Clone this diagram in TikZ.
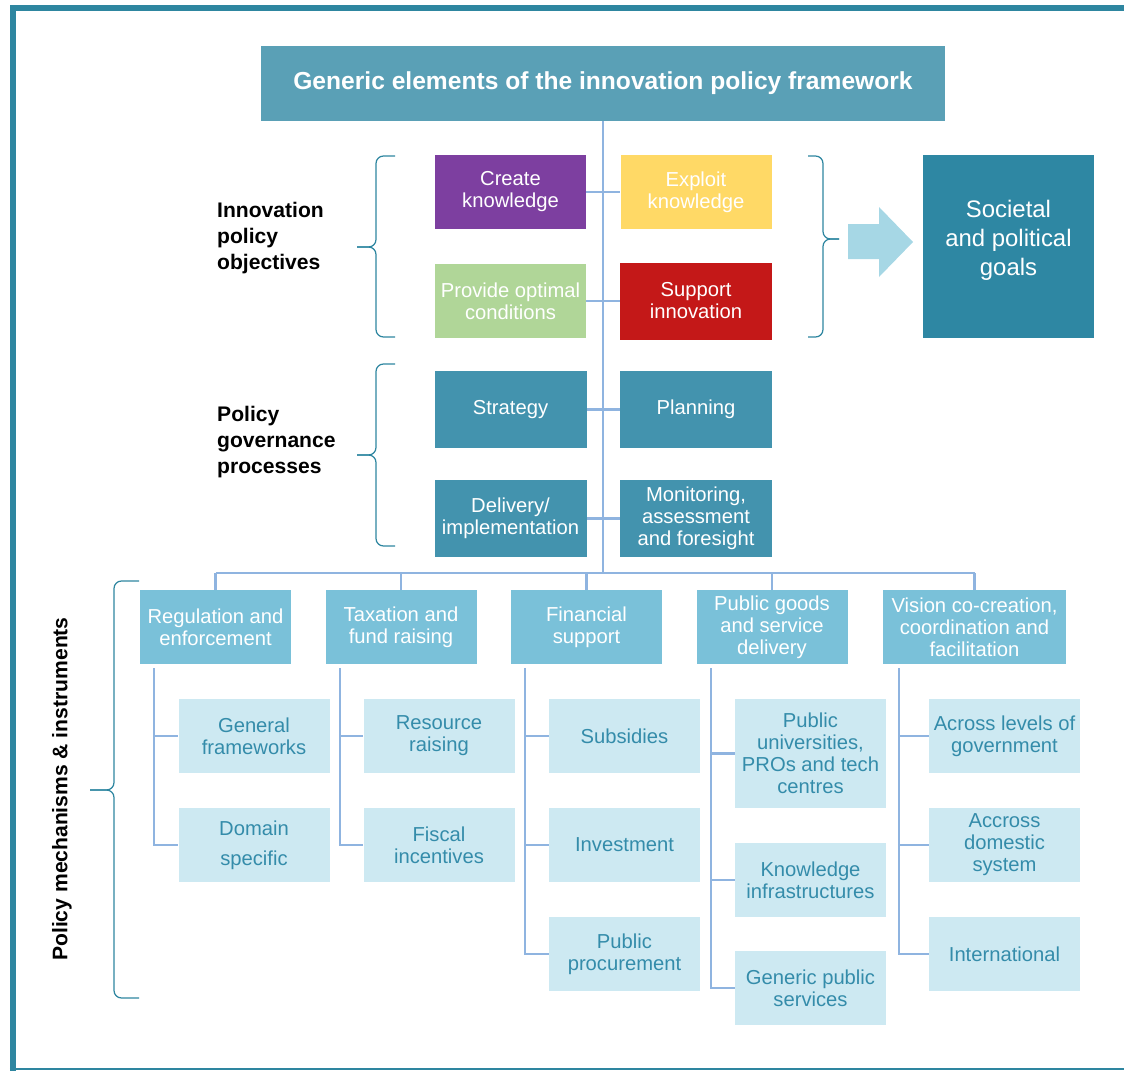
\documentclass[tikz,border=0pt]{standalone}
\usepackage{fontspec}
\setmainfont{Liberation Sans}
\definecolor{bandTeal}{RGB}{46,134,160}
\definecolor{headTeal}{RGB}{90,160,182}
\definecolor{objPurple}{RGB}{125,63,160}
\definecolor{objYellow}{RGB}{255,217,102}
\definecolor{objGreen}{RGB}{176,214,152}
\definecolor{objRed}{RGB}{196,24,24}
\definecolor{procTeal}{RGB}{67,147,174}
\definecolor{goalTeal}{RGB}{46,135,163}
\definecolor{goalArrow}{RGB}{166,215,229}
\definecolor{mechBlue}{RGB}{122,193,217}
\definecolor{instrBg}{RGB}{205,233,242}
\definecolor{instrInk}{RGB}{52,140,170}
\definecolor{linkBlue}{RGB}{143,180,224}

\begin{document}
\begin{tikzpicture}[
  font=\fontsize{11.5}{12.5}\selectfont,
  box/.style={inner sep=1pt,align=center,text=white,minimum width=3.02cm,minimum height=1.48cm},
  title/.style={box,fill=headTeal,font=\fontsize{14}{16}\selectfont\bfseries,minimum width=13.68cm,minimum height=1.5cm},
  process/.style={box,fill=procTeal,minimum width=3.04cm,minimum height=1.54cm},
  mechanism/.style={box,fill=mechBlue},
  instrument/.style={box,fill=instrBg,text=instrInk},
  groupname/.style={font=\fontsize{12}{14.8}\selectfont\bfseries,align=left,anchor=west},
  trunk/.style={draw=linkBlue,line width=1.6pt},
  twig/.style={draw=linkBlue,line width=1.5pt},
  brackline/.style={draw=bandTeal,line width=0.7pt,rounded corners=0.15cm},
  edgeband/.style={fill=bandTeal}
]
\useasboundingbox (0,0) rectangle (22.48,-21.42);

% page frame: heavy top and left, hairline at the bottom
\fill[edgeband] (0.2,-0.1) rectangle (22.48,-0.22);
\fill[edgeband] (0.2,-0.1) rectangle (0.32,-21.42);
\draw[bandTeal,line width=1.1pt] (0.2,-21.38) -- (22.48,-21.38);

\node[title] (head) at (12.06,-1.67) {Generic elements of the innovation policy framework};

% objectives
\node[box,fill=objPurple] (create) at (10.21,-3.84) {Create\\knowledge};
\node[box,fill=objYellow] (exploit) at (13.92,-3.84) {Exploit\\knowledge};
\node[box,fill=objGreen] (provide) at (10.21,-6.02) {Provide optimal\\conditions};
\node[box,fill=objRed,minimum width=3.04cm,minimum height=1.54cm] (support) at (13.92,-6.02) {Support\\innovation};

% governance
\node[process] (strategy) at (10.21,-8.19) {Strategy};
\node[process] (planning) at (13.92,-8.19) {Planning};
\node[process] (delivery) at (10.21,-10.37) {Delivery/\\implementation};
\node[process] (monitoring) at (13.92,-10.37) {Monitoring,\\assessment\\and foresight};

\node[box,fill=goalTeal,minimum width=3.42cm,minimum height=3.66cm,font=\fontsize{13.6}{16.5}\selectfont] (goals) at (20.17,-4.93) {Societal\\and political\\goals\\[-0.24cm]};
\fill[goalArrow] (16.96,-4.48) -- (17.58,-4.48) -- (17.58,-4.14) -- (18.26,-4.84)
  -- (17.58,-5.54) -- (17.58,-5.18) -- (16.96,-5.18) -- cycle;

\node[groupname] (objlabel) at (4.22,-4.76) {Innovation\\policy\\objectives};
\node[groupname] (govlabel) at (4.22,-8.84) {Policy\\governance\\processes};
\node[groupname,rotate=90,anchor=center] (mechlabel) at (1.24,-15.78) {Policy mechanisms \& instruments};

% braces, drawn as two halves meeting at the tip
\draw[brackline] (7.9,-3.12) -- (7.52,-3.12) -- (7.52,-4.94) -- (7.14,-4.94);
\draw[brackline] (7.14,-4.94) -- (7.52,-4.94) -- (7.52,-6.74) -- (7.9,-6.74);
\draw[brackline] (7.9,-7.28) -- (7.52,-7.28) -- (7.52,-9.1) -- (7.14,-9.1);
\draw[brackline] (7.14,-9.1) -- (7.52,-9.1) -- (7.52,-10.92) -- (7.9,-10.92);
\draw[brackline] (16.16,-3.12) -- (16.46,-3.12) -- (16.46,-4.78) -- (16.78,-4.78);
\draw[brackline] (16.78,-4.78) -- (16.46,-4.78) -- (16.46,-6.74) -- (16.16,-6.74);
\draw[brackline] (2.78,-11.62) -- (2.28,-11.62) -- (2.28,-15.8) -- (1.8,-15.8);
\draw[brackline] (1.8,-15.8) -- (2.28,-15.8) -- (2.28,-19.96) -- (2.78,-19.96);

% mechanisms
\node[mechanism] (regulation) at (4.31,-12.54) {Regulation and\\enforcement};
\node[mechanism] (taxation) at (8.02,-12.54) {Taxation and\\fund raising};
\node[mechanism] (financial) at (11.73,-12.54) {Financial\\support};
\node[mechanism] (publicgoods) at (15.44,-12.54) {Public goods\\and service\\delivery};
\node[mechanism,minimum width=3.66cm] (vision) at (19.49,-12.54) {Vision co-creation,\\coordination and\\facilitation};

% instruments
\node[instrument] (genframe) at (5.08,-14.72) {General\\frameworks};
\node[instrument] (domain) at (5.08,-16.9) {Domain\\[4.5pt]specific};
\node[instrument] (resource) at (8.78,-14.72) {Resource\\raising};
\node[instrument] (fiscal) at (8.78,-16.9) {Fiscal\\incentives};
\node[instrument] (subsidies) at (12.49,-14.72) {Subsidies};
\node[instrument] (investment) at (12.49,-16.9) {Investment};
\node[instrument] (procurement) at (12.49,-19.08) {Public\\procurement};
\node[instrument,minimum height=2.18cm] (universities) at (16.21,-15.07) {Public\\universities,\\PROs and tech\\centres};
\node[instrument] (knowinfra) at (16.21,-17.6) {Knowledge\\infrastructures};
\node[instrument] (genericpub) at (16.21,-19.76) {Generic public\\services};
\node[instrument] (levels) at (20.09,-14.72) {Across levels of\\government};
\node[instrument] (domestic) at (20.09,-16.9) {Accross\\domestic\\system};
\node[instrument] (international) at (20.09,-19.08) {International};

% trunk and bus
\coordinate (bus) at (12.06,-11.46);
\draw[trunk] (head.south) -- (bus);
\draw[trunk] (create.east) -- (exploit.west);
\draw[trunk] (provide.east) -- (support.west);
\draw[trunk] (strategy.east) -- (planning.west);
\draw[trunk] (delivery.east) -- (monitoring.west);
\draw[trunk] (regulation.north |- bus) -- (vision.north |- bus);
\draw[trunk] (regulation.north |- bus) -- (regulation.north);
\draw[trunk] (taxation.north |- bus) -- (taxation.north);
\draw[trunk] (financial.north |- bus) -- (financial.north);
\draw[trunk] (publicgoods.north |- bus) -- (publicgoods.north);
\draw[trunk] (vision.north |- bus) -- (vision.north);

% spines under each mechanism
\coordinate (regspine) at (3.08,-13.36);
\coordinate (taxspine) at (6.8,-13.36);
\coordinate (finspine) at (10.5,-13.36);
\coordinate (pubspine) at (14.22,-13.36);
\coordinate (visspine) at (17.98,-13.36);
\draw[twig] (regspine) |- (genframe.west);
\draw[twig] (regspine) |- (domain.west);
\draw[twig] (taxspine) |- (resource.west);
\draw[twig] (taxspine) |- (fiscal.west);
\draw[twig] (finspine) |- (subsidies.west);
\draw[twig] (finspine) |- (investment.west);
\draw[twig] (finspine) |- (procurement.west);
\draw[twig] (pubspine) |- (universities.west);
\draw[twig] (pubspine) |- (knowinfra.west);
\draw[twig] (pubspine) |- (genericpub.west);
\draw[twig] (visspine) |- (levels.west);
\draw[twig] (visspine) |- (domestic.west);
\draw[twig] (visspine) |- (international.west);

\end{tikzpicture}
\end{document}
